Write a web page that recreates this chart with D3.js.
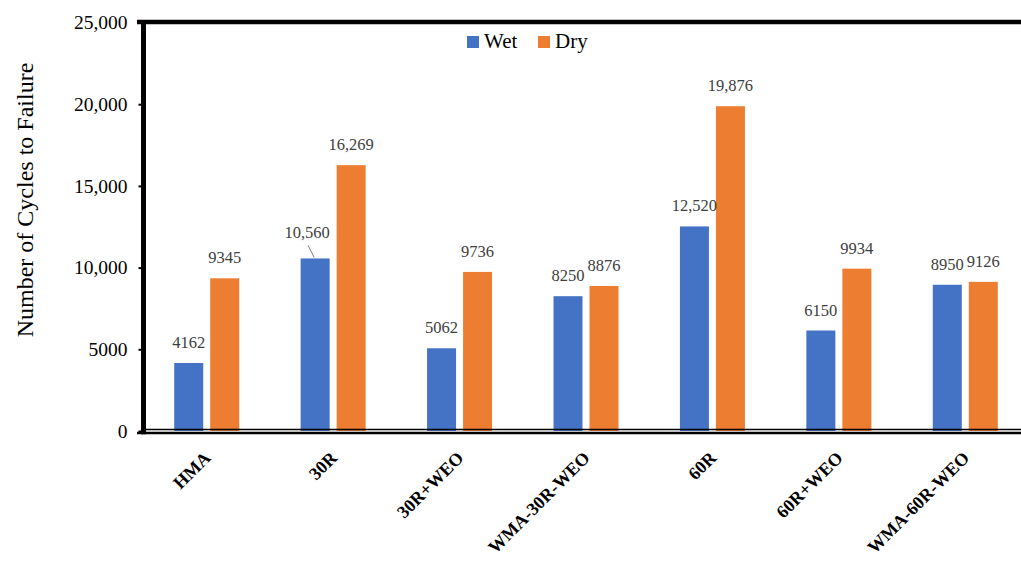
<!DOCTYPE html>
<html>
<head>
<meta charset="utf-8">
<script src="https://cdn.jsdelivr.net/npm/d3@7/dist/d3.min.js"></script>
<style>
  html, body { margin: 0; padding: 0; background: #fff; }
  svg { display: block; }
</style>
</head>
<body>
<svg id="chart" width="1021" height="561"></svg>
<script>
// Mixture types and cycles to failure for each conditioning
const categories = ["HMA", "30R", "30R+WEO", "WMA-30R-WEO", "60R", "60R+WEO", "WMA-60R-WEO"];
const seriesNames = ["Wet", "Dry"];
const wetValues = [4162, 10560, 5062, 8250, 12520, 6150, 8950];
const dryValues = [9345, 16269, 9736, 8876, 19876, 9934, 9126];
const yTicks = [0, 5000, 10000, 15000, 20000, 25000];
const yTickLabels = ["0", "5000", "10,000", "15,000", "20,000", "25,000"];

const colors = { Wet: "#4472C4", Dry: "#ED7D31" };
const FONT = "'Liberation Serif', 'Times New Roman', Times, serif";

const W = 1021, H = 561;
const svg = d3.select("#chart").attr("font-family", FONT);

const plot = { left: 143.5, right: 1028.5, top: 22.5, bottom: 431 };

const x0 = d3.scaleBand().domain(categories).range([plot.left, plot.right]).paddingInner(0).paddingOuter(0);
const x1 = d3.scaleBand().domain(seriesNames).range([0, 65]).paddingInner(7 / 36).paddingOuter(0);
const y = d3.scaleLinear().domain([0, 25000]).range([plot.bottom, plot.top]);

const rows = categories.map((c, i) => ({ cat: c, Wet: wetValues[i], Dry: dryValues[i] }));

// Bars
const groups = svg.append("g").selectAll("g")
  .data(rows).join("g")
  .attr("transform", d => `translate(${x0(d.cat) + x0.bandwidth() / 2 - 32.5},0)`);

groups.selectAll("rect")
  .data(d => seriesNames.map(s => ({ s, v: d[s], cat: d.cat })))
  .join("rect")
  .attr("x", d => x1(d.s))
  .attr("width", x1.bandwidth())
  .attr("y", d => y(d.v))
  .attr("height", d => y(0) - y(d.v))
  .attr("fill", d => colors[d.s]);

// Value labels
const fmt = v => v >= 10000 ? d3.format(",")(v) : String(v);
groups.each(function (d) {
  const g = d3.select(this);
  seriesNames.forEach(s => {
    const cx = x1(s) + x1.bandwidth() / 2;
    const top = y(d[s]);
    let dx = 0, dy = 0;
    const lifted = d.cat === "30R" && s === "Wet";
    if (lifted) { dx = -8; dy = -5; }
    g.append("text")
      .attr("x", cx + dx)
      .attr("y", top - 15 + dy)
      .attr("text-anchor", "middle")
      .attr("font-family", FONT)
      .attr("font-size", 16.5)
      .attr("fill", "#404040")
      .text(fmt(d[s]));
    if (lifted) {
      g.append("line")
        .attr("x1", cx + dx + 1).attr("y1", top - 13)
        .attr("x2", cx - 1).attr("y2", top - 1)
        .attr("stroke", "#7f7f7f").attr("stroke-width", 1);
    }
  });
});

// Baseline at zero and the frame lines
svg.append("line")
  .attr("x1", plot.left).attr("x2", W)
  .attr("y1", y(0) - 1.5).attr("y2", y(0) - 1.5)
  .attr("stroke", "#000").attr("stroke-width", 1.3);
svg.append("line")
  .attr("x1", 137).attr("x2", W)
  .attr("y1", y(0) + 2).attr("y2", y(0) + 2)
  .attr("stroke", "#000").attr("stroke-width", 2.5);
svg.append("line")
  .attr("x1", 137).attr("x2", W)
  .attr("y1", 22).attr("y2", 22)
  .attr("stroke", "#000").attr("stroke-width", 4.5);

// Y axis
const yAxis = d3.axisLeft(y)
  .tickValues(yTicks)
  .tickFormat((d, i) => yTickLabels[i])
  .tickSize(5)
  .tickSizeOuter(0)
  .tickPadding(11);
const ya = svg.append("g").attr("transform", `translate(${plot.left},0)`).call(yAxis);
ya.attr("font-family", FONT).attr("font-size", 19.5);
ya.select(".domain").remove();
ya.selectAll(".tick line").attr("stroke", "#000").attr("stroke-width", 2);
ya.selectAll(".tick text").attr("fill", "#000");
svg.append("line")
  .attr("x1", plot.left).attr("x2", plot.left)
  .attr("y1", 20).attr("y2", y(0) + 3.25)
  .attr("stroke", "#000").attr("stroke-width", 5);

// Category labels
svg.append("g").selectAll("text")
  .data(categories).join("text")
  .attr("transform", d => `translate(${x0(d) + x0.bandwidth() / 2 + 5},459) rotate(-45)`)
  .attr("text-anchor", "end")
  .attr("font-family", FONT)
  .attr("font-size", 18)
  .attr("font-weight", "bold")
  .attr("fill", "#000")
  .text(d => d);

// Y axis title
svg.append("text")
  .attr("transform", "translate(33,200) rotate(-90)")
  .attr("text-anchor", "middle")
  .attr("font-family", FONT)
  .attr("font-size", 24)
  .attr("fill", "#000")
  .text("Number of Cycles to Failure");

// Legend
const legend = svg.append("g");
const legendItems = [{ s: "Wet", x: 467 }, { s: "Dry", x: 538 }];
legendItems.forEach(it => {
  legend.append("rect").attr("x", it.x).attr("y", 36).attr("width", 12).attr("height", 12)
    .attr("fill", colors[it.s]);
  legend.append("text").attr("x", it.x + 17).attr("y", 48)
    .attr("font-family", FONT)
    .attr("font-size", 21).attr("fill", "#000").text(it.s);
});
</script>
</body>
</html>
